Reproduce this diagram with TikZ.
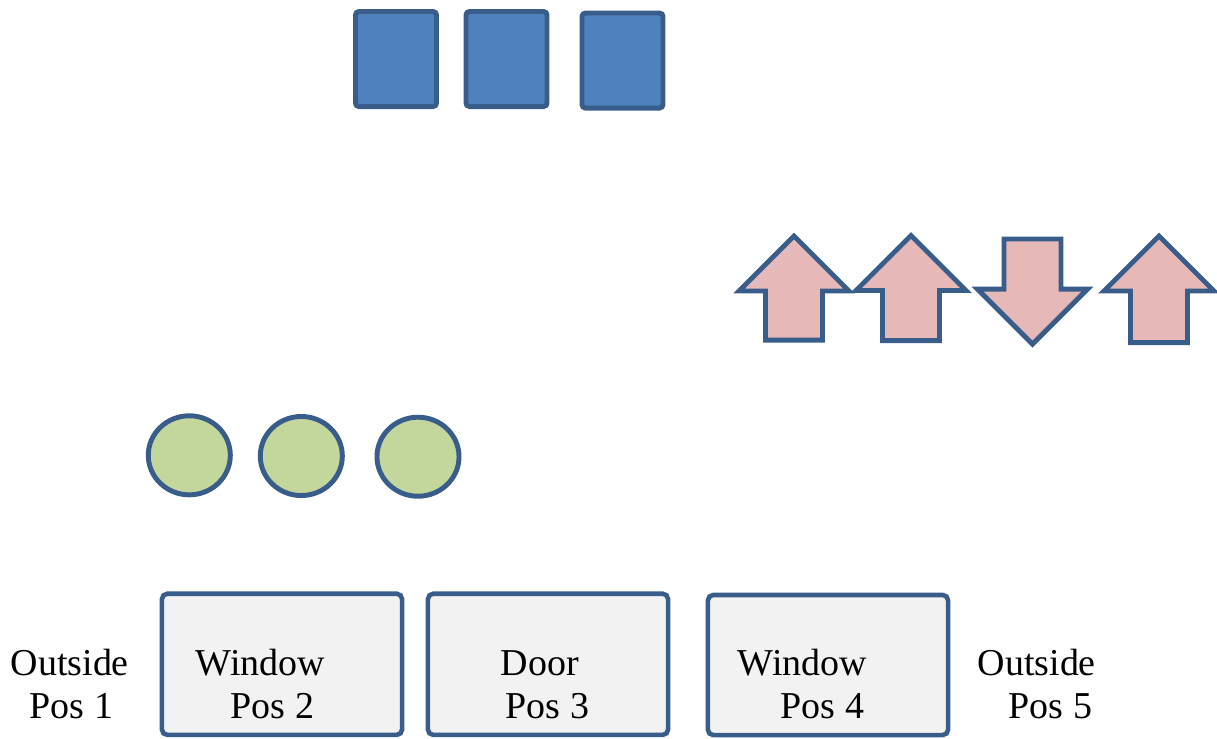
\documentclass[tikz,border=0pt]{standalone}
\usepackage{fontspec}
\setmainfont{Liberation Serif}
\usepackage{tikz}
\usetikzlibrary{shapes.geometric, shapes.arrows}

\definecolor{edgeblue}{HTML}{385D8A}
\definecolor{squarefill}{HTML}{4F81BD}
\definecolor{ballfill}{HTML}{C3D69B}
\definecolor{arrowfill}{HTML}{E6B9B8}
\definecolor{boxfill}{HTML}{F2F2F2}

\tikzstyle{square} = [rectangle, rounded corners=1pt, minimum width=0.81cm, minimum height=0.95cm, inner sep=0, line width=1.4pt, draw=edgeblue, fill=squarefill]
\tikzstyle{ball} = [ellipse, minimum width=0.82cm, minimum height=0.79cm, inner sep=0, line width=1.4pt, draw=edgeblue, fill=ballfill]
\tikzstyle{bigarrow} = [single arrow, single arrow head extend=0.265cm, inner sep=0.26cm, anchor=tail, line width=1.4pt, draw=edgeblue, fill=arrowfill]
\tikzstyle{uparrow} = [bigarrow, shape border rotate=90]
\tikzstyle{downarrow} = [bigarrow, shape border rotate=270]
\tikzstyle{opening} = [rectangle, rounded corners=1.5pt, minimum width=2.4cm, minimum height=1.41cm, line width=1.3pt, draw=edgeblue, fill=boxfill]
\tikzstyle{place} = [anchor=base west, align=left, inner sep=0, font=\fontsize{10.8}{12.2}\selectfont]

\begin{document}
\begin{tikzpicture}[x=0.01cm, y=-0.01cm]
        \useasboundingbox (0,0) rectangle (1217,738);

        % blocks on top
        \node (sq1) [square] at (396,59) {};
        \node (sq2) [square] at (506.5,59) {};
        \node (sq3) [square] at (622.5,60.5) {};

        % arrows, tail at the given point
        \node (up1) [uparrow, minimum height=1.04cm] at (794,342.5) {};
        \node (up2) [uparrow, minimum height=1.05cm] at (911,343) {};
        \node (down3) [downarrow, minimum height=1.05cm] at (1032.5,236.5) {};
        \node (up4) [uparrow, minimum height=1.065cm] at (1159,345) {};

        % balls
        \node (ball1) [ball] at (189.3,455.3) {};
        \node (ball2) [ball] at (301.3,456) {};
        \node (ball3) [ball] at (418,456.7) {};

        % wall openings
        \node (win2) [opening] at (282,664.3) {};
        \node (door3) [opening] at (548,664.3) {};
        \node (win4) [opening, minimum height=1.40cm] at (828,665) {};

        % position labels (base = last line)
        \node (pos1) [place] at (10,718) {Outside\\\hspace*{0.19cm}Pos 1};
        \node (pos2) [place] at (195,718) {Window\\\hspace*{0.35cm}Pos 2};
        \node (pos3) [place] at (500,718) {Door\\\hspace*{0.05cm}Pos 3};
        \node (pos4) [place] at (737,718) {Window\\\hspace*{0.43cm}Pos 4};
        \node (pos5) [place] at (977,718) {Outside\\\hspace*{0.31cm}Pos 5};

      \end{tikzpicture}
\end{document}
